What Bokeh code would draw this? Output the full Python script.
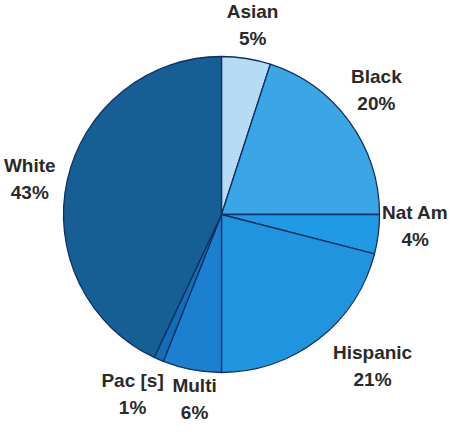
import math
from bokeh.plotting import figure
from bokeh.models import Range1d, ColumnDataSource
from bokeh.core.properties import value
from bokeh.embed import file_html
from bokeh.resources import INLINE

# Data
categories = ["Asian", "Black", "Nat Am", "Hispanic", "Multi", "Pac Isl", "White"]
label_names = ["Asian", "Black", "Nat Am", "Hispanic", "Multi", "Pac [s]", "White"]
shares = [5, 20, 4, 21, 6, 1, 43]

# Styles
colors = ["#b6dcf5", "#3aa6e6", "#1f9ae4", "#2094df", "#1b80d0", "#146db6", "#155f95"]
label_r = [192.5, 199, 194, 214, 186.5, 200, 195]       # label distance from centre
label_shift = [-0.3, 2.9, 3.8, 7.1, 2.5, -3.0, 2.1]       # degrees off the wedge middle

W, H = 447, 424
cx, cy, R = 221, 210, 158   # pie centre/radius in plot units

total = float(sum(shares))
starts, ends, mids = [], [], []
acc = 0.0
for s in shares:
    a0 = math.pi / 2 - 2 * math.pi * acc / total
    acc += s
    a1 = math.pi / 2 - 2 * math.pi * acc / total
    starts.append(a0)
    ends.append(a1)
    mids.append((a0 + a1) / 2)

angs = [m + math.radians(d) for m, d in zip(mids, label_shift)]
lx = [cx + r * math.cos(a) for r, a in zip(label_r, angs)]
ly = [cy + r * math.sin(a) for r, a in zip(label_r, angs)]
pct = ["%d%%" % s for s in shares]

src = ColumnDataSource(dict(cat=categories, start=starts, end=ends, color=colors,
                            lx=lx, ly=ly, name=label_names, pct=pct))

p = figure(width=W, height=H, output_backend="svg", toolbar_location=None,
           x_range=Range1d(0, W), y_range=Range1d(0, H), min_border=0)
p.axis.visible = False
p.grid.visible = False
p.outline_line_color = None
p.background_fill_color = "white"

p.wedge(x=cx, y=cy, radius=R, start_angle="start", end_angle="end", direction="clock",
        fill_color="color", line_color="#0e2f63", line_width=1.3, source=src)

common = dict(source=src, text_align="center", text_baseline="middle",
              text_font=value("Liberation Sans"), text_font_size="19px",
              text_font_style="bold", text_color="#2a2a2a")
p.text(x="lx", y="ly", text="name", y_offset=-13.5, **common)
p.text(x="lx", y="ly", text="pct", y_offset=13.5, **common)

open("out.html", "w").write(file_html(p, INLINE))
